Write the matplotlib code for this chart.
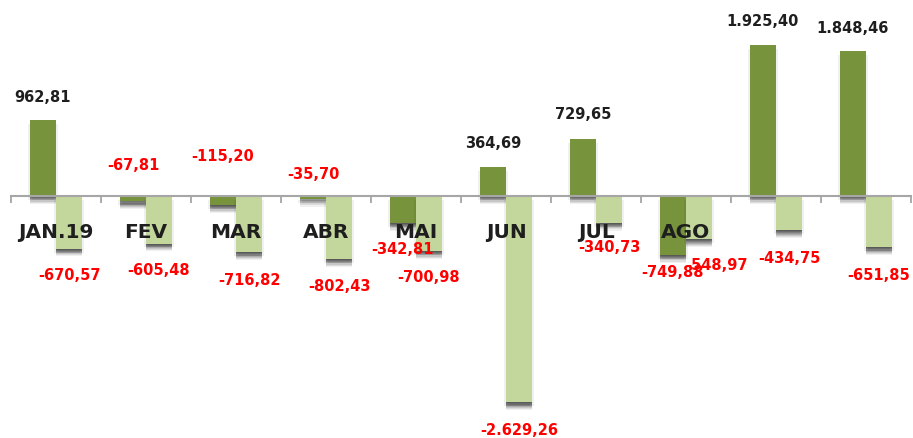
import matplotlib
matplotlib.use("Agg")
import matplotlib.pyplot as plt
import matplotlib.patheffects as pe
import numpy as np

MESES = ["JAN.19", "FEV", "MAR", "ABR", "MAI", "JUN", "JUL", "AGO", "", ""]
SERIE_A = [962.81, -67.81, -115.20, -35.70, -342.81, 364.69, 729.65,
           -749.88, 1925.40, 1848.46]
SERIE_B = [-670.57, -605.48, -716.82, -802.43, -700.98, -2629.26, -340.73,
           -548.97, -434.75, -651.85]

# deslocamento dos rótulos (pixels) a partir da ponta da barra
DESLOC_A = [24, 37, 50, 25, -26, 25, 25, -17, 24, 23]
DESLOC_B = [-26, -26, -27, -27, -25, -27, -24, -25, -27, -27]
DESLOC_B_X = [0, 0, 0, 0, 0, 0, 0, 17, 0, 0]

VERDE_ESC = "#77933c"
VERDE_CLR = "#c3d69b"
TINTA = "#1e1e1e"
VERMELHO = "#ff0000"
EIXO = "#a6a6a6"
LARG = 0.29


def fmt(v):
    s = f"{v:,.2f}"
    return s.replace(",", "X").replace(".", ",").replace("X", ".")


def sombra():
    # sombra "desfocada" à moda do Excel: várias camadas deslocadas p/ baixo
    camadas = []
    for dy, a in ((-0.8, 0.16), (-1.6, 0.16), (-2.4, 0.15), (-3.2, 0.13),
                  (-4.0, 0.10), (-4.8, 0.08), (-5.6, 0.06)):
        camadas.append(pe.SimplePatchShadow(offset=(0, dy),
                                            shadow_rgbFace="black",
                                            alpha=a))
    for dx in (-1.3, 1.3):
        camadas.append(pe.SimplePatchShadow(offset=(dx, -2.8),
                                            shadow_rgbFace="black",
                                            alpha=0.06))
    return camadas + [pe.Normal()]


fig = plt.figure(figsize=(9.13, 4.39), dpi=100)
ax = fig.add_axes([11 / 913, 0, 900 / 913, 1])
x = np.arange(len(MESES))

ba = ax.bar(x - LARG / 2, SERIE_A, LARG, color=VERDE_ESC, zorder=2)
bb = ax.bar(x + LARG / 2, SERIE_B, LARG, color=VERDE_CLR, zorder=2)
for r in list(ba) + list(bb):
    r.set_path_effects(sombra())

ax.set_xlim(-0.5, len(MESES) - 0.5)
ax.set_ylim(-3083, 2510)

for s in ("top", "right", "left"):
    ax.spines[s].set_visible(False)
ax.spines["bottom"].set_position(("data", 0))
ax.spines["bottom"].set_color(EIXO)
ax.spines["bottom"].set_linewidth(1.5)
ax.spines["bottom"].set_zorder(3)
ax.set_xticks(np.arange(len(MESES) + 1) - 0.5)
ax.set_xticklabels([])
ax.tick_params(axis="x", length=5, width=1.3, color=EIXO, direction="out")
ax.set_yticks([])
ax.patch.set_alpha(0)

for i, v in enumerate(SERIE_A):
    ax.annotate(fmt(v), (i - LARG / 2, v), xytext=(0, DESLOC_A[i]),
                textcoords="offset pixels", ha="center", va="center",
                fontsize=10.5, fontweight="bold", zorder=5,
                color=TINTA if v >= 0 else VERMELHO)
for i, v in enumerate(SERIE_B):
    ax.annotate(fmt(v), (i + LARG / 2, v), xytext=(DESLOC_B_X[i], DESLOC_B[i]),
                textcoords="offset pixels", ha="center", va="center",
                fontsize=10.5, fontweight="bold", zorder=5,
                color=TINTA if v >= 0 else VERMELHO)
for i, m in enumerate(MESES):
    ax.annotate(m, (i, 0), xytext=(0, -35), textcoords="offset pixels",
                ha="center", va="center", fontsize=14.5, fontweight="bold",
                color=TINTA, zorder=4)

fig.savefig("out.png", dpi=100, facecolor="white")
